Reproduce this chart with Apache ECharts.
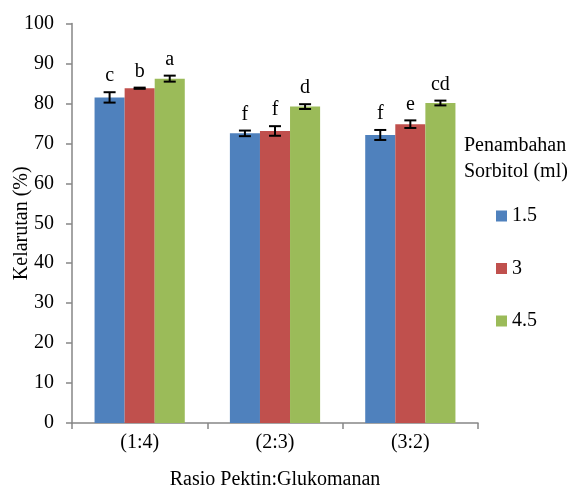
<!DOCTYPE html>
<html><head><meta charset="utf-8">
<script src="https://cdn.jsdelivr.net/npm/echarts@6/dist/echarts.min.js"></script>
<style>html,body{margin:0;padding:0;background:#fff}#c{width:576px;height:489px}</style>
</head><body><div id="c"></div>
<script>
const categories = ['(1:4)', '(2:3)', '(3:2)'];
const seriesNames = ['1.5', '3', '4.5'];
const values15 = [81.5, 72.5, 72.1];
const values3 = [83.8, 73.1, 74.8];
const values45 = [86.2, 79.2, 80.1];
const err15 = [1.3, 0.7, 1.25];
const err3 = [0.15, 1.2, 0.95];
const err45 = [0.75, 0.6, 0.6];
const letters15 = ['c', 'f', 'f'];
const letters3 = ['b', 'f', 'e'];
const letters45 = ['a', 'd', 'cd'];
const yTicks = [0, 10, 20, 30, 40, 50, 60, 70, 80, 90, 100];

const colors = ['#4F81BD', '#C0504D', '#9BBB59'];
const vals = [values15, values3, values45];
const errs = [err15, err3, err45];
const lets = [letters15, letters3, letters45];
const font = '"Liberation Serif", "Times New Roman", serif';
const FS = 20;

const chart = echarts.init(document.getElementById('c'));
const series = [];
vals.forEach((v, i) => {
  series.push({
    name: seriesNames[i], type: 'bar', data: v,
    barGap: 0, barCategoryGap: '33.333%',
    itemStyle: { color: colors[i] }
  });
});
vals.forEach((v, i) => {
  series.push({
    type: 'custom',
    data: v.map((val, k) => [k, val, errs[i][k]]),
    z: 10,
    renderItem: function (params, api) {
      const k = api.value(0), val = api.value(1), e = api.value(2);
      const band = api.size([1, 0])[0];
      const bw = band * (2 / 3) / 3;
      const off = (i - 1) * bw;
      const top = api.coord([k, val + e]);
      const bot = api.coord([k, val - e]);
      const x = top[0] + off;
      const cap = 6;
      const txt = lets[i][k];
      return {
        type: 'group',
        children: [
          { type: 'line', shape: { x1: x, y1: top[1], x2: x, y2: bot[1] }, style: { stroke: '#000', lineWidth: 2 } },
          { type: 'line', shape: { x1: x - cap, y1: top[1], x2: x + cap, y2: top[1] }, style: { stroke: '#000', lineWidth: 2 } },
          { type: 'line', shape: { x1: x - cap, y1: bot[1], x2: x + cap, y2: bot[1] }, style: { stroke: '#000', lineWidth: 2 } },
          { type: 'text', x: x, y: top[1] - 6, style: { text: txt, fill: '#000', font: FS + 'px ' + font, textAlign: 'center', textVerticalAlign: 'bottom' } }
        ]
      };
    }
  });
});

chart.setOption({
  animation: false,
  textStyle: { fontFamily: font },
  grid: { left: 72, right: 98, top: 23.5, bottom: 66, containLabel: false, outerBoundsMode: 'none' },
  title: {
    text: 'Penambahan\nSorbitol (ml)', left: 464, top: 133, padding: 0,
    textStyle: { fontFamily: font, fontSize: FS, fontWeight: 'normal', color: '#000', lineHeight: 26 }
  },
  legend: {
    orient: 'vertical', left: 496, top: 206, padding: 0, itemWidth: 11, itemHeight: 11, itemGap: 32.5,
    data: seriesNames, icon: 'rect',
    textStyle: { fontFamily: font, fontSize: FS, color: '#000' }
  },
  xAxis: {
    type: 'category', data: categories,
    name: 'Rasio Pektin:Glukomanan', nameLocation: 'middle', nameGap: 47, nameMoveOverlap: false,
    nameTextStyle: { fontFamily: font, fontSize: FS, color: '#000' },
    axisLine: { lineStyle: { color: '#868686', width: 1.5 } },
    axisTick: { show: true, length: 6, lineStyle: { color: '#868686', width: 1.5 } },
    axisLabel: { fontFamily: font, fontSize: FS, color: '#000', margin: 10 }
  },
  yAxis: {
    type: 'value', min: 0, max: 100, interval: 10,
    name: 'Kelarutan (%)', nameLocation: 'middle', nameGap: 40, nameMoveOverlap: false,
    nameTextStyle: { fontFamily: font, fontSize: FS, color: '#000' },
    axisLine: { show: true, lineStyle: { color: '#868686', width: 1.5 } },
    axisTick: { show: true, length: 6, lineStyle: { color: '#868686', width: 1.5 } },
    splitLine: { show: false },
    axisLabel: { fontFamily: font, fontSize: FS, color: '#000', margin: 18,
      formatter: v => yTicks.includes(v) ? String(v) : '' }
  },
  series: series
});
</script></body></html>
